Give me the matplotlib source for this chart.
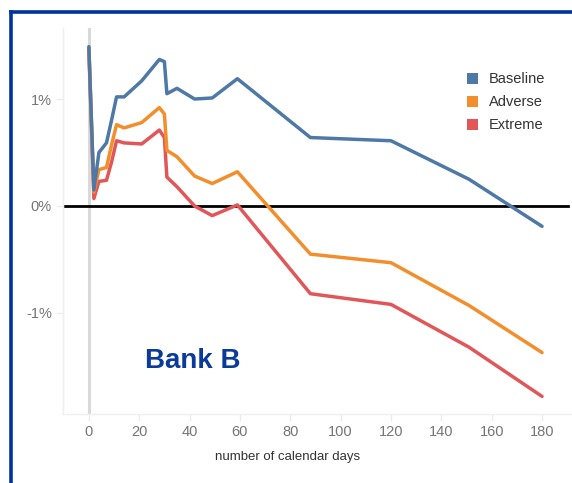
import matplotlib
matplotlib.use("Agg")
import matplotlib.pyplot as plt
from matplotlib.lines import Line2D
from matplotlib.patches import Patch
from matplotlib.ticker import FuncFormatter

plt.rcParams['font.family'] = ['Liberation Sans', 'DejaVu Sans']

# days after start
days = [0, 2, 4, 7, 9, 11, 14, 21, 28, 30, 31, 35, 42, 49, 59, 88, 120, 151, 180]
# values in %
baseline = [1.49, 0.15, 0.50, 0.59, 0.80, 1.02, 1.02, 1.17, 1.37, 1.35, 1.05, 1.10,
            1.00, 1.01, 1.19, 0.64, 0.61, 0.25, -0.19]
adverse = [1.48, 0.13, 0.34, 0.36, 0.57, 0.76, 0.73, 0.78, 0.92, 0.86, 0.52, 0.46,
           0.28, 0.21, 0.32, -0.45, -0.53, -0.93, -1.37]
extreme = [1.47, 0.07, 0.23, 0.24, 0.41, 0.61, 0.59, 0.58, 0.71, 0.64, 0.27, 0.18,
           0.00, -0.09, 0.01, -0.82, -0.92, -1.32, -1.78]

series = [('Baseline', baseline, '#4e79a7'),
          ('Adverse', adverse, '#f28e2b'),
          ('Extreme', extreme, '#e15759')]

fig = plt.figure(figsize=(5.72, 4.83), dpi=100)
ax = fig.add_axes([0.110, 0.143, 0.890, 0.799])

ax.axvline(0, color='#d9d9d9', lw=2.2, zorder=1)
ax.axhline(0, xmin=0.004, xmax=0.992, color='black', lw=2, zorder=2)

# draw in reverse so baseline is on top
for name, vals, col in reversed(series):
    ax.plot(days, vals, color=col, lw=2.5, zorder=3, solid_joinstyle='round',
            solid_capstyle='round')

ax.set_xlim(-10.3, 191.9)
ax.set_ylim(-1.944, 1.664)
ax.set_xticks(range(0, 181, 20))
ax.set_yticks([-1, 0, 1])
ax.yaxis.set_major_formatter(FuncFormatter(lambda v, p: f"{v:.0f}%".replace('\u2212', '-')))
ax.tick_params(length=5, width=1, color='#ececec', labelsize=10.5, labelcolor='#757575', pad=3)

for s in ['top', 'right']:
    ax.spines[s].set_visible(False)
for s in ['left', 'bottom']:
    ax.spines[s].set_color('#efefef')
    ax.spines[s].set_linewidth(1)

ax.set_xlabel('number of calendar days', fontsize=9.5, color='#333333')
ax.xaxis.set_label_coords(0.442, -0.095)

ax.text(41.3, -1.45, 'Bank B', fontsize=20, fontweight='bold', color='#0a3a9a',
        ha='center', va='center')

handles = [Patch(facecolor=c, edgecolor='none', label=n) for n, _, c in series]
ax.legend(handles=handles, loc='upper left', bbox_to_anchor=(0.793, 0.885), frameon=False,
          fontsize=10.5, labelcolor='#333333', handlelength=0.8, handleheight=0.8,
          handletextpad=0.7, labelspacing=0.62, borderaxespad=0, borderpad=0)

# frame border (left and top)
fig.add_artist(Line2D([10.5 / 572, 10.5 / 572], [0, 1 - 11.5 / 483],
                      transform=fig.transFigure, color='#0033a0', lw=2.6,
                      solid_capstyle='projecting'))
fig.add_artist(Line2D([10.5 / 572, 1], [1 - 11.5 / 483, 1 - 11.5 / 483],
                      transform=fig.transFigure, color='#0033a0', lw=2.6,
                      solid_capstyle='projecting'))

fig.savefig('out.png', dpi=100)
